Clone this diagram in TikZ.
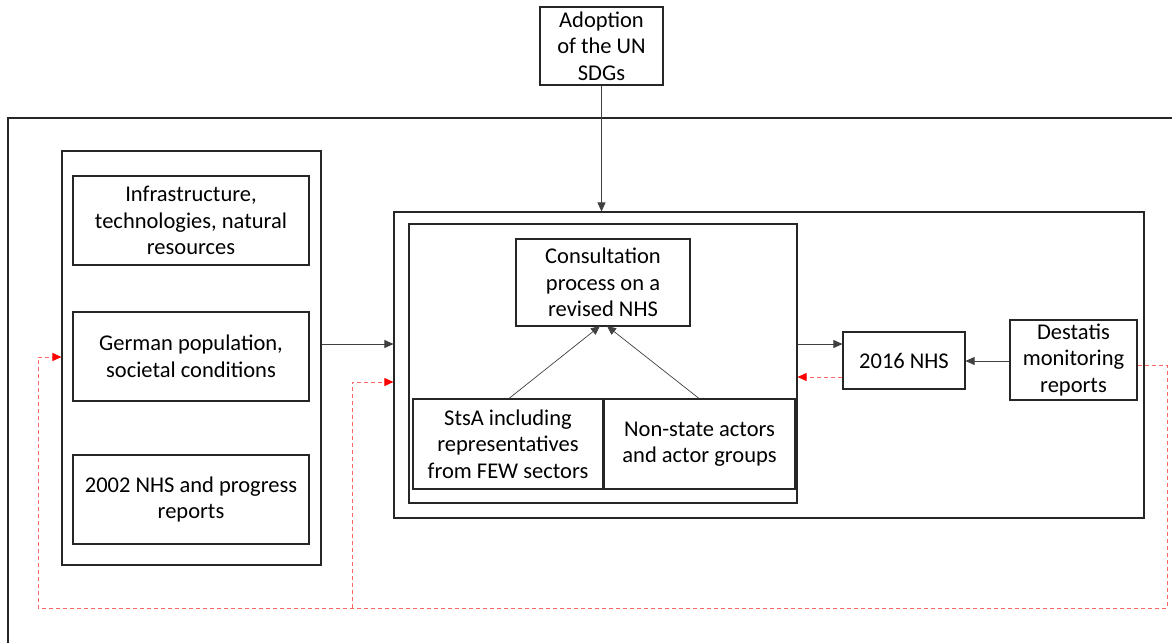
\documentclass[tikz,border=0pt]{standalone}
\usepackage{fontspec}
\setmainfont{Carlito}
\usetikzlibrary{arrows.meta,calc}
\begin{document}
\begin{tikzpicture}[x=1pt,y=-1pt,
  box/.style={draw=black!85, line width=1.1pt, align=center, inner sep=0pt,
    font=\fontsize{22.5}{26.5}\selectfont},
  link/.style={draw=black!75, line width=0.7pt, -{Triangle[length=9pt,width=8pt]}},
  feedback/.style={draw=red!60, line width=0.8pt, dash pattern=on 4pt off 3pt,
    -{Triangle[length=9pt,width=8pt,color=red,fill=red]}}]
\useasboundingbox (0,0) rectangle (1172,643);

% open outer frame
\draw[draw=black!85, line width=1.1pt] (8,643) -- (8,118) -- (1172,118);

% left column
\node[box, minimum width=259pt, minimum height=414pt] (left) at (191.5,358) {};
\node[box, minimum width=236pt, minimum height=89pt] (infra) at (191,220.5)
  {Infrastructure,\\technologies, natural\\resources};
\node[box, minimum width=236pt, minimum height=89pt] (german) at (191,356.5)
  {German population,\\societal conditions};
\node[box, minimum width=236pt, minimum height=89pt] (nhs02) at (191,499.5)
  {2002 NHS and progress\\reports};

% top
\node[box, minimum width=123pt, minimum height=78pt] (adopt) at (601.5,46)
  {Adoption\\of the UN\\SDGs};

% middle block
\node[box, minimum width=750pt, minimum height=306pt] (mid) at (769,365) {};
\node[box, minimum width=388pt, minimum height=279pt] (inner) at (603,363.5) {};
\node[box, minimum width=174pt, minimum height=87pt] (consult) at (603,282.5)
  {Consultation\\process on a\\revised NHS};
\node[box, minimum width=190pt, minimum height=90pt] (stsa) at (508,444)
  {StsA including\\representatives\\from FEW sectors};
\node[box, minimum width=191pt, minimum height=90pt] (nonstate) at (699.5,444)
  {Non-state actors\\and actor groups};

% right
\node[box, minimum width=122pt, minimum height=57pt] (nhs16) at (904,360.5) {2016 NHS};
\node[box, minimum width=127pt, minimum height=80pt] (destatis) at (1073.5,360)
  {Destatis\\monitoring\\reports};

% helper levels
\coordinate (yA) at (0,344);
\coordinate (yB) at (0,377);
\coordinate (yC) at (0,361);
\coordinate (yD) at (0,365);
\coordinate (yE) at (0,357);
\coordinate (yF) at (0,382);
\coordinate (rtop) at (1167,365);
\coordinate (rbot) at (1167,608);
\coordinate (lbot) at (38,608);
\coordinate (ltop) at (38,357);
\coordinate (bbot) at (352,608);
\coordinate (btop) at (352,382);
\coordinate (cA) at (600,326);
\coordinate (cB) at (607,326);

% connectors
\draw[link] (adopt.south) -- (adopt.south |- mid.north);
\draw[link] (left.east |- yA) -- (mid.west |- yA);
\draw[link] (inner.east |- yA) -- (nhs16.west |- yA);
\draw[link] (destatis.west |- yC) -- (nhs16.east |- yC);
\draw[link] ($(stsa.north)+(1,0)$) -- (cA);
\draw[link] ($(nonstate.north)+(-0.5,0)$) -- (cB);

% feedback loops
\draw[feedback] (nhs16.west |- yB) -- (inner.east |- yB);
\draw[feedback] (destatis.east |- yD) -- (rtop) -- (rbot) -- (lbot) -- (ltop) -- (left.west |- yE);
\draw[feedback] (bbot) -- (btop) -- (mid.west |- yF);
\end{tikzpicture}
\end{document}
